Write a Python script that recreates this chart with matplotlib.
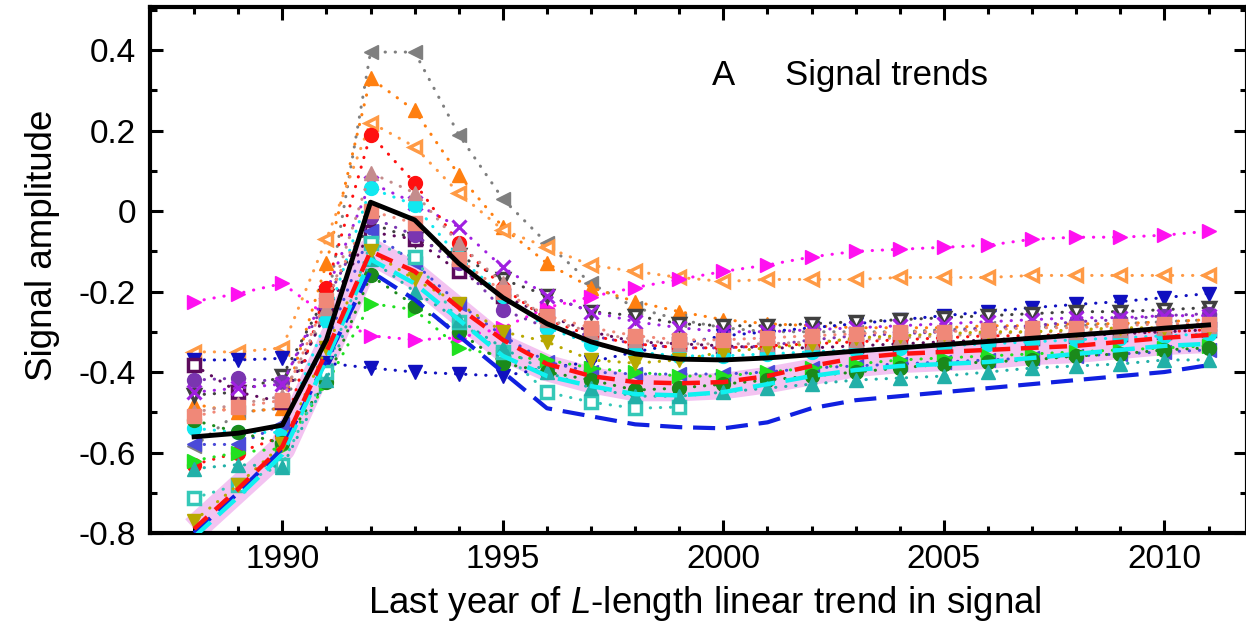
import numpy as np
import matplotlib
matplotlib.use("Agg")
import matplotlib.pyplot as plt
from matplotlib.ticker import MultipleLocator

plt.rcParams['font.family'] = ['Liberation Sans', 'DejaVu Sans']
plt.rcParams['mathtext.fontset'] = 'custom'
plt.rcParams['mathtext.rm'] = 'Liberation Sans'
plt.rcParams['mathtext.it'] = 'Liberation Sans:italic'

nan = np.nan
years = list(range(1988, 2012))

# ---- dotted marker series ----
gray_left = [-0.585, -0.50, -0.49, -0.245, 0.395, 0.395, 0.19, 0.03, -0.08, -0.18, -0.24, -0.27,
             -0.29, -0.30, -0.30, -0.30, -0.30, -0.295, -0.29, -0.29, -0.285, -0.28, -0.275, -0.27]
orange_up = [-0.48, -0.50, -0.49, -0.13, 0.33, 0.25, 0.09, -0.04, -0.13, -0.19, -0.225, -0.25,
             -0.27, -0.28, -0.285, -0.29, -0.29, -0.29, -0.285, -0.285, -0.28, -0.28, -0.275, -0.27]
orange_open_left = [-0.35, -0.35, -0.34, -0.07, 0.22, 0.16, 0.045, -0.047, -0.09, -0.135, -0.15, -0.165,
                    -0.175, -0.17, -0.17, -0.17, -0.165, -0.165, -0.165, -0.16, -0.16, -0.16, -0.16, -0.16]
magenta_right = [-0.225, -0.205, -0.18, -0.26, -0.31, -0.32, -0.315, -0.29, -0.24, -0.213, -0.19, -0.17,
                 -0.15, -0.134, -0.114, -0.10, -0.095, -0.09, -0.085, -0.07, -0.065, -0.065, -0.06, -0.05]
darkblue_down = [-0.37, -0.37, -0.366, -0.378, -0.39, -0.40, -0.405, -0.41, -0.39, -0.375, -0.35, -0.33,
                 -0.31, -0.30, -0.29, -0.28, -0.27, -0.26, -0.25, -0.24, -0.232, -0.225, -0.215, -0.205]
dimgray_open_down = [-0.457, -0.45, -0.41, -0.21, -0.03, -0.07, -0.11, -0.17, -0.21, -0.25, -0.26, -0.28,
                     -0.285, -0.285, -0.28, -0.275, -0.27, -0.265, -0.26, -0.255, -0.25, -0.25, -0.245, -0.24]
darkpurple_open_sq = [-0.383, -0.45, -0.475, -0.25, -0.052, -0.07, -0.15, -0.21, -0.26, -0.30, -0.325, -0.33,
                      -0.335, -0.34, -0.34, -0.335, -0.33, -0.325, -0.32, -0.315, -0.31, -0.305, -0.30, -0.295]
purple_circle = [-0.42, -0.415, -0.425, -0.22, -0.015, -0.06, -0.13, -0.245, -0.29, -0.31, -0.33, -0.34,
                 -0.34, -0.335, -0.32, -0.31, -0.305, -0.30, -0.29, -0.285, -0.275, -0.27, -0.26, -0.255]
violet_x = [-0.45, -0.44, -0.43, -0.20, 0.07, 0.02, -0.04, -0.14, -0.21, -0.25, -0.275, -0.29,
            -0.30, -0.30, -0.295, -0.29, -0.285, -0.28, -0.275, -0.27, -0.265, -0.265, -0.26, -0.26]
red_circle = [-0.63, -0.60, -0.56, -0.19, 0.19, 0.07, -0.08, -0.19, -0.27, -0.31, -0.33, -0.34,
              -0.34, -0.335, -0.33, -0.325, -0.32, -0.315, -0.31, -0.31, -0.305, -0.30, -0.30, -0.295]
cyan_circle = [-0.54, -0.55, -0.55, -0.27, 0.057, 0.015, -0.115, -0.21, -0.29, -0.33, -0.35, -0.36,
               -0.36, -0.355, -0.35, -0.345, -0.34, -0.335, -0.33, -0.325, -0.32, -0.315, -0.31, -0.305]
rosy_up = [-0.50, -0.48, -0.46, -0.24, 0.095, 0.045, -0.08, -0.18, -0.27, -0.30, -0.32, -0.33,
           -0.33, -0.33, -0.325, -0.32, -0.315, -0.31, -0.305, -0.30, -0.30, -0.295, -0.29, -0.285]
slate_left = [-0.58, -0.58, -0.53, -0.33, -0.05, -0.13, -0.23, -0.31, -0.375, -0.40, -0.405, -0.405,
              -0.405, -0.40, -0.39, -0.385, -0.38, -0.375, -0.37, -0.365, -0.36, -0.355, -0.35, -0.345]
green_right = [-0.62, -0.60, -0.59, -0.43, -0.23, -0.245, -0.34, -0.36, -0.37, -0.39, -0.40, -0.41,
               -0.41, -0.40, -0.39, -0.38, -0.37, -0.365, -0.36, -0.355, -0.35, -0.345, -0.34, -0.335]
darkgreen_circle = [-0.52, -0.55, -0.577, -0.425, -0.16, -0.235, -0.30, -0.378, -0.40, -0.42, -0.445, -0.44,
                    -0.43, -0.42, -0.41, -0.40, -0.39, -0.38, -0.375, -0.37, -0.36, -0.355, -0.345, -0.34]
teal_open_sq = [-0.713, -0.68, -0.63, -0.40, -0.08, -0.115, -0.275, -0.35, -0.45, -0.475, -0.49, -0.487,
                nan, nan, nan, nan, nan, nan, nan, nan, nan, nan, nan, nan]
teal_up = [-0.64, -0.63, -0.635, -0.42, -0.12, -0.20, -0.27, -0.34, -0.40, -0.44, -0.46, -0.46,
           -0.45, -0.44, -0.43, -0.42, -0.415, -0.41, -0.40, -0.39, -0.385, -0.38, -0.37, -0.37]
olive_down = [-0.77, -0.68, -0.58, -0.34, -0.10, -0.17, -0.23, -0.30, -0.325, -0.37, -0.378, -0.37,
              -0.35, -0.34, -0.33, -0.315, -0.31, -0.305, -0.30, -0.30, -0.295, -0.29, -0.29, -0.29]
salmon_sq = [-0.51, -0.487, -0.47, -0.22, 0.00, -0.03, -0.12, -0.20, -0.26, -0.29, -0.31, -0.32,
             -0.32, -0.315, -0.31, -0.305, -0.30, -0.30, -0.295, -0.29, -0.29, -0.285, -0.28, -0.28]

# ---- heavy summary lines ----
pink_band = [-0.79, -0.69, -0.59, -0.35, -0.10, -0.16, -0.25, -0.34, -0.39, -0.42, -0.44, -0.44,
             -0.435, -0.42, -0.40, -0.38, -0.37, -0.365, -0.36, -0.35, -0.345, -0.335, -0.325, -0.32]
red_dashed = [-0.79, -0.69, -0.585, -0.35, -0.10, -0.15, -0.24, -0.32, -0.38, -0.41, -0.425, -0.428,
              -0.425, -0.41, -0.385, -0.365, -0.355, -0.35, -0.345, -0.34, -0.335, -0.325, -0.315, -0.308]
blue_dashed = [-0.80, -0.70, -0.59, -0.37, -0.15, -0.22, -0.31, -0.40, -0.49, -0.51, -0.53, -0.537,
               -0.54, -0.525, -0.49, -0.47, -0.46, -0.45, -0.44, -0.43, -0.42, -0.41, -0.40, -0.383]
cyan_dashed = [-0.81, -0.71, -0.605, -0.37, -0.12, -0.18, -0.27, -0.36, -0.41, -0.435, -0.455, -0.458,
               -0.45, -0.43, -0.41, -0.395, -0.385, -0.38, -0.375, -0.365, -0.355, -0.345, -0.335, -0.33]
black_mean = [-0.561, -0.552, -0.532, -0.32, 0.022, -0.022, -0.13, -0.215, -0.28, -0.325, -0.355, -0.368,
              -0.37, -0.365, -0.357, -0.348, -0.34, -0.332, -0.324, -0.316, -0.308, -0.3, -0.291, -0.283]

FS = 24
LFS = 26.5

fig = plt.figure(figsize=(12.46, 6.30), dpi=100)
ax = fig.add_axes([150/1246, (630-533)/630, (1246.5-150)/1246, (533-7)/630])

dot_ls = (0, (0.1, 3.2))

# pink band (underneath)
ax.plot(years, pink_band, color='#F0B4EE', lw=19, alpha=0.8, solid_capstyle='butt', zorder=1)

dotted = [
    (gray_left, '#7F7F7F', '<', True),
    (orange_up, '#FF7F10', '^', True),
    (orange_open_left, '#FF9A45', '<', False),
    (magenta_right, '#FF10F0', '>', True),
    (darkblue_down, '#1010C0', 'v', True),
    (dimgray_open_down, '#404040', 'v', False),
    (darkpurple_open_sq, '#5C0A5C', 's', False),
    (purple_circle, '#7A35B0', 'o', True),
    (violet_x, '#A020E0', 'x', True),
    (red_circle, '#FF1010', 'o', True),
    (cyan_circle, '#10E8F0', 'o', True),
    (rosy_up, '#C48C8C', '^', True),
    (slate_left, '#4A4AD8', '<', True),
    (green_right, '#20E020', '>', True),
    (darkgreen_circle, '#1B8A1B', 'o', True),
    (teal_open_sq, '#34C8B8', 's', False),
    (teal_up, '#22B0A8', '^', True),
    (olive_down, '#B8A800', 'v', True),
    (salmon_sq, '#F08878', 's', True),
]
for vals, col, mk, filled in dotted:
    if filled:
        ax.plot(years, vals, ls=dot_ls, lw=2.2, color=col, dash_capstyle='round',
                marker=mk, ms=10, mec=col, mfc=col, mew=2.2 if mk == 'x' else 1, zorder=2)
    else:
        ax.plot(years, vals, ls=dot_ls, lw=2.2, color=col, dash_capstyle='round',
                marker=mk, ms=9, mec=col, mfc='white', mew=2.5, zorder=2)

ax.plot(years, blue_dashed, color='#1020E0', lw=3, ls=(0, (5.3, 2.6)), zorder=3)
ax.plot(years, cyan_dashed, color='#10F0F0', lw=3.2, ls=(0, (5, 2.4)), zorder=3)
ax.plot(years, red_dashed, color='#FF1010', lw=3.2, ls=(0, (4, 2.4)), zorder=3)
ax.plot(years, black_mean, color='black', lw=3.5, zorder=4)

ax.set_xlim(1987, 2011.86)
ax.set_ylim(-0.8, 0.507)
ax.xaxis.set_minor_locator(MultipleLocator(1))
ax.yaxis.set_minor_locator(MultipleLocator(0.1))
ax.set_yticks([0.4, 0.2, 0, -0.2, -0.4, -0.6, -0.8])
ax.set_yticklabels(['0.4', '0.2', '0', '-0.2', '-0.4', '-0.6', '-0.8'])
ax.set_xticks([1990, 1995, 2000, 2005, 2010])
ax.tick_params(which='both', direction='in', top=True, right=True, labelsize=FS, width=2.2)
ax.tick_params(which='major', length=9.5)
ax.tick_params(axis='y', which='major', pad=10)
ax.tick_params(axis='x', which='major', pad=8)
ax.tick_params(which='minor', length=5)
for s in ax.spines.values():
    s.set_linewidth(3)

ax.set_xlabel(r'Last year of $\it{L}$-length linear trend in signal', fontsize=LFS)
ax.set_ylabel('Signal amplitude', fontsize=LFS)
ax.xaxis.set_label_coords((705 - 150) / 1096.5, (533 - 584) / 526)
ax.yaxis.set_label_coords((60 - 150) / 1096.5, (533 - 245) / 526)

ax.text(2000.0, 0.338, 'A', fontsize=25, ha='center', va='center')
ax.text(2001.4, 0.338, 'Signal trends', fontsize=25, ha='left', va='center')

fig.savefig('out.png', dpi=100)
